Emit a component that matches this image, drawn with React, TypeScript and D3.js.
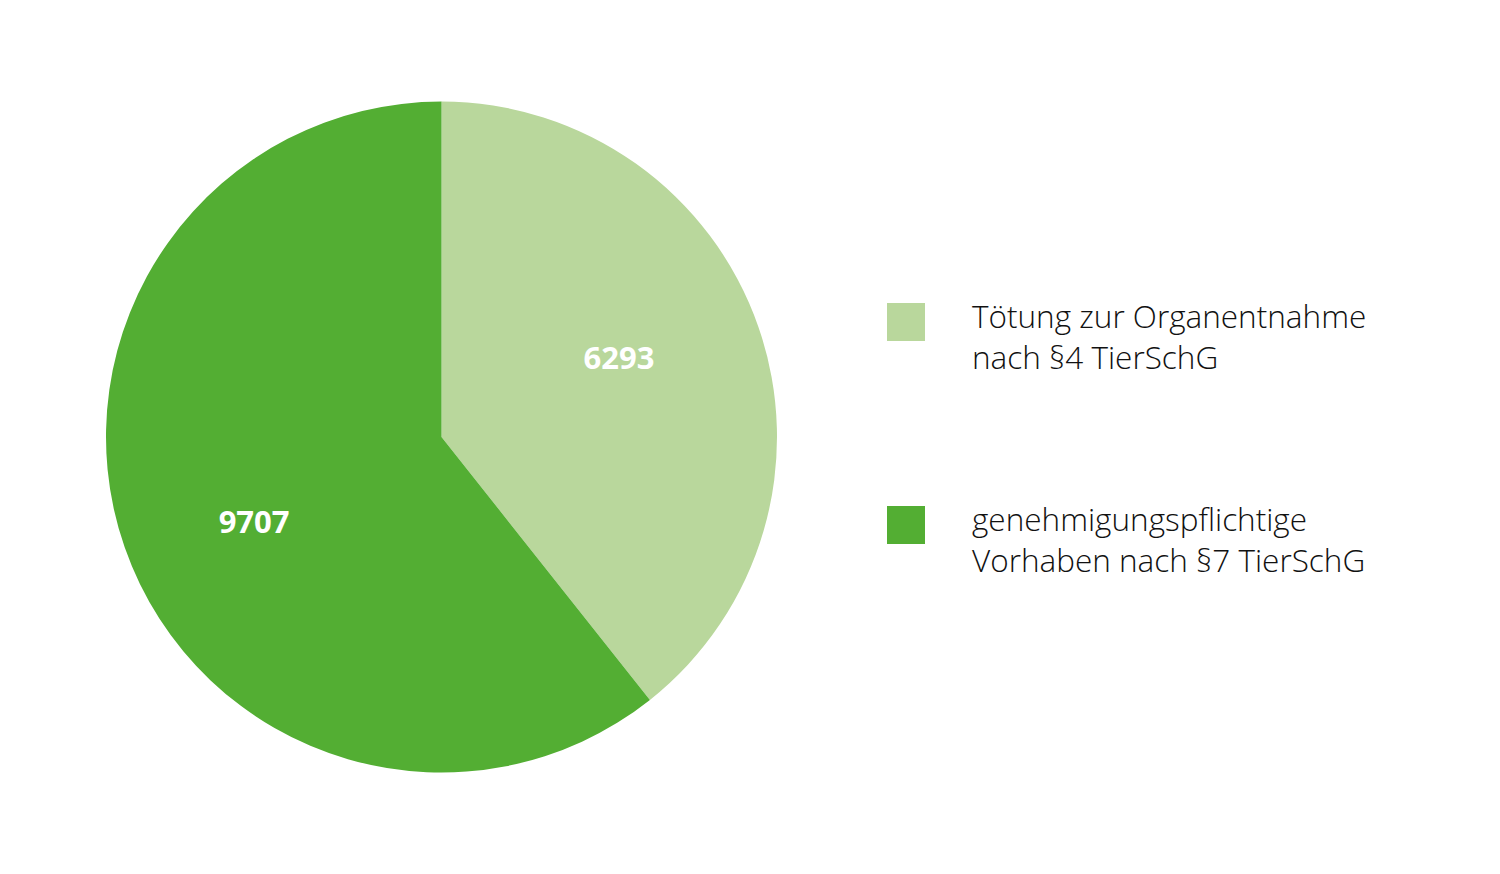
import React from "react";
import * as d3 from "d3";

const categories = ["Tötung zur Organentnahme nach §4 TierSchG", "genehmigungspflichtige Vorhaben nach §7 TierSchG"];
const legendLines = [
  ["Tötung zur Organentnahme", "nach §4 TierSchG"],
  ["genehmigungspflichtige", "Vorhaben nach §7 TierSchG"],
];
const values = [6293, 9707];
const colors = ["#b9d79c", "#53ae33"];

const W = 1500;
const H = 874;
const cx = 441.5;
const cy = 437;
const R = 335.5;

export default function App() {
  const pie = d3.pie<number>().sort(null).value((d) => d);
  const arcs = pie(values);
  const arc = d3.arc<d3.PieArcDatum<number>>().innerRadius(0).outerRadius(R);
  const labelShift = (-5 * Math.PI) / 180;
  const labelArc = d3
    .arc<d3.PieArcDatum<number>>()
    .innerRadius(200)
    .outerRadius(200)
    .startAngle((d) => d.startAngle + labelShift)
    .endAngle((d) => d.endAngle + labelShift);

  const legendY = d3.scaleOrdinal<string, number>().domain(categories).range([303, 506]);

  return (
    <svg width={W} height={H} style={{ position: "absolute", left: 0, top: 0, background: "#fff" }}>
      <g transform={`translate(${cx},${cy})`}>
        {arcs.map((a, i) => (
          <path key={i} d={arc(a) || ""} fill={colors[i]} />
        ))}
        {arcs.map((a, i) => {
          const [x, y] = labelArc.centroid(a);
          return (
            <text
              key={"l" + i}
              x={x - 5}
              y={y + 2}
              textAnchor="middle"
              dominantBaseline="central"
              fill="#fff"
              fontFamily="'Open Sans', sans-serif"
              fontWeight={700}
              fontSize={31}
            >
              {values[i]}
            </text>
          );
        })}
      </g>
      {categories.map((c, i) => {
        const y0 = legendY(c);
        return (
          <g key={c}>
            <rect x={887} y={y0} width={38} height={38} fill={colors[i]} />
            {legendLines[i].map((line, j) => (
              <text
                key={j}
                x={972}
                y={y0 + 25 + j * 41}
                fill="#111"
                fontFamily="'Open Sans', sans-serif"
                fontWeight={350}
                fontSize={31.5}
              >
                {line}
              </text>
            ))}
          </g>
        );
      })}
    </svg>
  );
}
